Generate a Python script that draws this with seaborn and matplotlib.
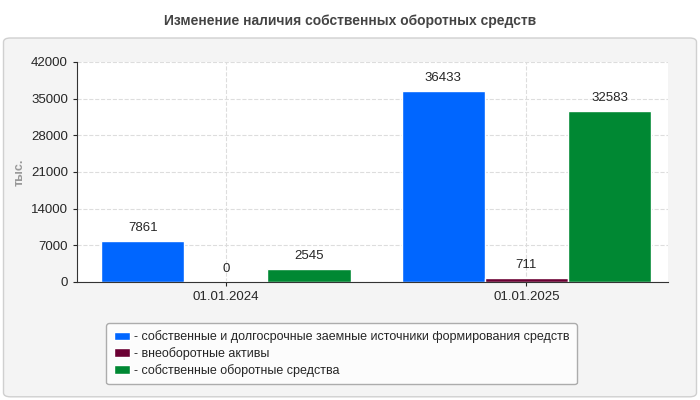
import matplotlib
matplotlib.use("Agg")
import matplotlib.pyplot as plt
import seaborn as sns
import pandas as pd
from matplotlib.patches import FancyBboxPatch

dates = ["01.01.2024", "01.01.2025"]
series = ["- собственные и долгосрочные заемные источники формирования средств",
          "- внеоборотные активы",
          "- собственные оборотные средства"]
own_long = [7861, 36433]
non_current = [0, 711]
working = [2545, 32583]
colors = ["#0066ff", "#6b0033", "#008833"]

df = pd.DataFrame({
    "date": dates * 3,
    "series": [s for s in series for _ in dates],
    "value": own_long + non_current + working,
})

sns.set_style("white")
plt.rcParams["font.family"] = ["Liberation Sans", "DejaVu Sans"]

fig = plt.figure(figsize=(7, 4), dpi=100)
fig.patch.set_facecolor("white")
panel = FancyBboxPatch((0.005, 0.008), 0.99, 0.897, boxstyle="round,pad=0,rounding_size=0.01",
                       transform=fig.transFigure, facecolor="#f4f4f4", edgecolor="#d0d0d0", lw=1, zorder=-10)
fig.patches.append(panel)
fig.text(0.5, 0.948, "Изменение наличия собственных оборотных средств", ha="center", va="center",
         fontsize=10, fontweight="bold", color="#444444")

ax = fig.add_axes([0.11, 0.295, 0.844, 0.55])
ax.set_facecolor("white")
sns.barplot(data=df, x="date", y="value", hue="series", palette=colors, width=0.83,
            saturation=1, ax=ax, legend=True)
for cont in ax.containers:
    labels = [f"{int(v)}" for v in cont.datavalues]
    ax.bar_label(cont, labels=labels, padding=5, fontsize=9.5)
    for bar in cont:
        if bar.get_height() == 0:
            bar.set_height(250)

ax.set_ylim(0, 42000)
ax.set_yticks(range(0, 42001, 7000))
ax.set_xlim(-0.495, 1.47)
ax.set_xlabel("")
ax.set_ylabel("тыс.", fontsize=9, color="#999999", fontweight="bold")
ax.tick_params(labelsize=9.5, length=3, left=True, bottom=True)
ax.grid(True, linestyle="--", color="#dddddd", lw=0.8)
ax.set_axisbelow(True)
for s in ["top", "right"]:
    ax.spines[s].set_visible(False)
for s in ["left", "bottom"]:
    ax.spines[s].set_color("#333333")

handles, lbls = ax.get_legend_handles_labels()
ax.legend_.remove()
leg = fig.legend(handles, lbls, loc="upper left", bbox_to_anchor=(0.143, 0.208), fontsize=9,
                 frameon=True, fancybox=True, edgecolor="#999999", facecolor="white",
                 handlelength=1.3, handleheight=0.7, labelspacing=0.3, borderpad=0.6, handletextpad=0.3)

fig.savefig("out.png", dpi=100)
